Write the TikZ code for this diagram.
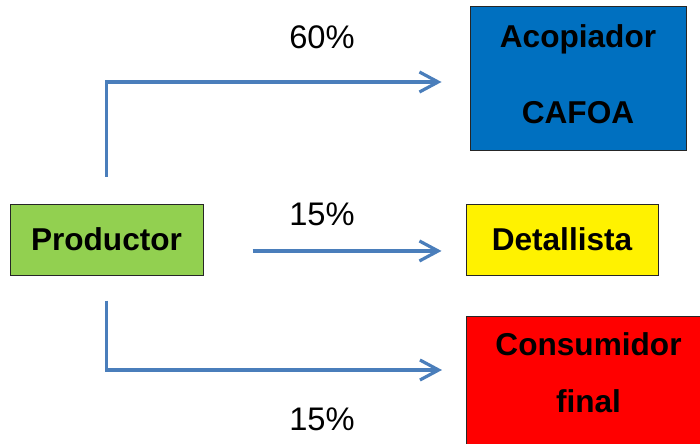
\documentclass[tikz,border=0pt]{standalone}
\usepackage{fontspec}
\setmainfont{Liberation Sans}
\usetikzlibrary{arrows.meta}
\begin{document}
\begin{tikzpicture}[x=0.75pt,y=-0.75pt,
    caja/.style={draw=black!85,line width=0.75pt,inner sep=0pt,align=center,
        font=\fontsize{23.7}{28}\selectfont\bfseries},
    flecha/.style={draw=flechaazul,line width=2.4pt,
        -{Straight Barb[length=14pt,width=15pt,line width=2.4pt]}},
    pct/.style={inner sep=0pt,font=\fontsize{24.5}{28}\selectfont}]
    %colores
    \definecolor{verde}{HTML}{92D050}
    \definecolor{azulcaja}{HTML}{0070C0}
    \definecolor{flechaazul}{HTML}{4A7EBB}

    \useasboundingbox (0,0) rectangle (700,443);

    % cajas
    \node[caja,fill=verde,minimum width=144.75pt,minimum height=53.25pt] (prod) at (106.5,239.5) {Productor};
    \node[caja,fill=azulcaja,minimum width=162pt,minimum height=108pt,text depth=6pt,
        font=\fontsize{23.7}{57}\selectfont\bfseries] (acop) at (578,78) {Acopiador\\CAFOA};
    \node[caja,fill=yellow,minimum width=144pt,minimum height=53.25pt] (det) at (562,239.5) {Detallista};
    \node[caja,fill=red,minimum width=183pt,anchor=north west,inner ysep=12pt,text depth=40pt,
        font=\fontsize{23.7}{43}\selectfont\bfseries] (cons) at (466,316) {Consumidor\\final};

    % porcentajes
    \node[pct] (p60) at (322,37) {60\%};
    \node[pct] (p15a) at (322,214) {15\%};
    \node[pct] (p15b) at (322,419) {15\%};

    % flechas
    \draw[flecha] ([yshift=20.25pt]prod.north) |- ([xshift=-21pt,yshift=-3pt]acop.west);
    \draw[flecha] ([xshift=36.75pt,yshift=-8.6pt]prod.east) -- ([xshift=-18pt,yshift=-8.6pt]det.west);
    \draw[flecha] ([yshift=-18.75pt]prod.south) |- ([xshift=-18pt,yshift=-40.5pt]cons.north west);
\end{tikzpicture}
\end{document}
